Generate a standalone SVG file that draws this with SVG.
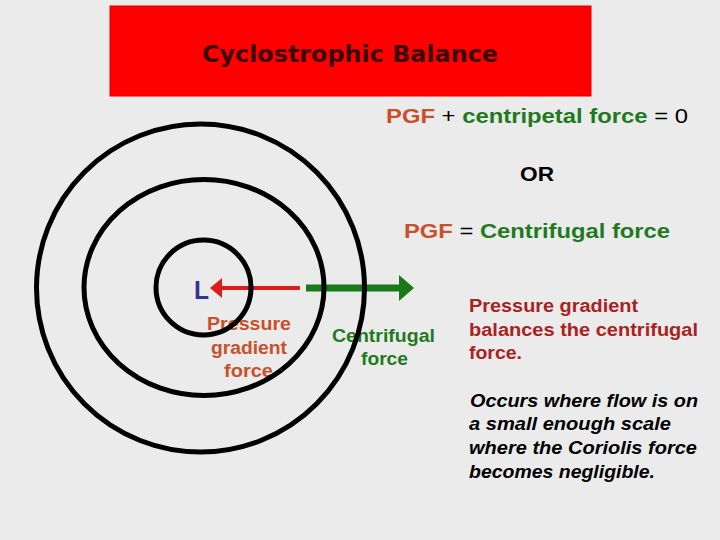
<svg xmlns="http://www.w3.org/2000/svg" width="720" height="540" viewBox="0 0 720 540">
<style>
.t{font-family:"Liberation Sans",Arial,sans-serif;font-weight:bold}
.ring{fill:none;stroke:#000;stroke-width:5}
.pgf{fill:#c8502a}
.grn{fill:#1f7a1f}
.n{font-weight:normal;fill:#000}
</style>
<defs>
<marker id="redHead" viewBox="0 0 12 20" refX="0" refY="10" markerWidth="12" markerHeight="20" markerUnits="userSpaceOnUse" orient="auto"><path d="M0,0 L12,10 L0,20 Z" fill="#dd1c1c"/></marker>
<marker id="grnHead" viewBox="0 0 15 26" refX="0" refY="13" markerWidth="15" markerHeight="26" markerUnits="userSpaceOnUse" orient="auto"><path d="M0,0 L15,13 L0,26 Z" fill="#1a7a1a"/></marker>
</defs>
<rect width="720" height="540" fill="#ebebeb"/>
<g id="title">
<rect x="110" y="6" width="481" height="90" fill="#ff0000" stroke="#e00000" stroke-width="1"/>
<text x="202" y="62" textLength="296" lengthAdjust="spacingAndGlyphs" style="font-family:'DejaVu Sans',sans-serif;font-weight:bold;font-size:23px" fill="#3a0505">Cyclostrophic Balance</text>
</g>
<g id="low"><text class="t" x="194" y="299" textLength="15" lengthAdjust="spacingAndGlyphs" font-size="26" fill="#333399">L</text></g>
<g id="connectors">
<line x1="300" y1="288" x2="222" y2="288" stroke="#dd1c1c" stroke-width="4" marker-end="url(#redHead)"/>
<line x1="306" y1="288" x2="399" y2="288" stroke="#1a7a1a" stroke-width="7" marker-end="url(#grnHead)"/>
</g>
<g id="pgf-label" class="t pgf" font-size="18">
<text x="207" y="330" textLength="84" lengthAdjust="spacingAndGlyphs">Pressure</text>
<text x="211" y="354" textLength="76" lengthAdjust="spacingAndGlyphs">gradient</text>
<text x="224" y="377" textLength="49" lengthAdjust="spacingAndGlyphs">force</text>
</g>
<g id="cf-label" class="t grn" font-size="18">
<text x="332" y="342" textLength="103" lengthAdjust="spacingAndGlyphs">Centrifugal</text>
<text x="361" y="365" textLength="47" lengthAdjust="spacingAndGlyphs">force</text>
</g>
<g id="rings">
<circle class="ring" cx="200.5" cy="288" r="164"/>
<ellipse class="ring" cx="204" cy="287.5" rx="120" ry="108"/>
<circle class="ring" cx="203.5" cy="287.5" r="47.5"/>
</g>
<g id="equations" class="t" font-size="21">
<text x="386" y="123" textLength="302" lengthAdjust="spacingAndGlyphs"><tspan class="pgf">PGF</tspan><tspan class="n"> + </tspan><tspan class="grn">centripetal force</tspan><tspan class="n"> = 0</tspan></text>
<text x="520" y="181" textLength="34" lengthAdjust="spacingAndGlyphs" fill="#000">OR</text>
<text x="404" y="238" textLength="266" lengthAdjust="spacingAndGlyphs"><tspan class="pgf">PGF</tspan><tspan class="n"> = </tspan><tspan class="grn">Centrifugal force</tspan></text>
</g>
<g id="notes" class="t" font-size="18">
<g fill="#a82222">
<text x="469" y="312" textLength="169" lengthAdjust="spacingAndGlyphs">Pressure gradient</text>
<text x="469" y="336" textLength="229" lengthAdjust="spacingAndGlyphs">balances the centrifugal</text>
<text x="469" y="359" textLength="53" lengthAdjust="spacingAndGlyphs">force.</text>
</g>
<g font-style="italic" fill="#000">
<text x="470" y="407" textLength="228" lengthAdjust="spacingAndGlyphs">Occurs where flow is on</text>
<text x="469" y="430" textLength="202" lengthAdjust="spacingAndGlyphs">a small enough scale</text>
<text x="469" y="454" textLength="228" lengthAdjust="spacingAndGlyphs">where the Coriolis force</text>
<text x="469" y="478" textLength="186" lengthAdjust="spacingAndGlyphs">becomes negligible.</text>
</g>
</g>
</svg>
